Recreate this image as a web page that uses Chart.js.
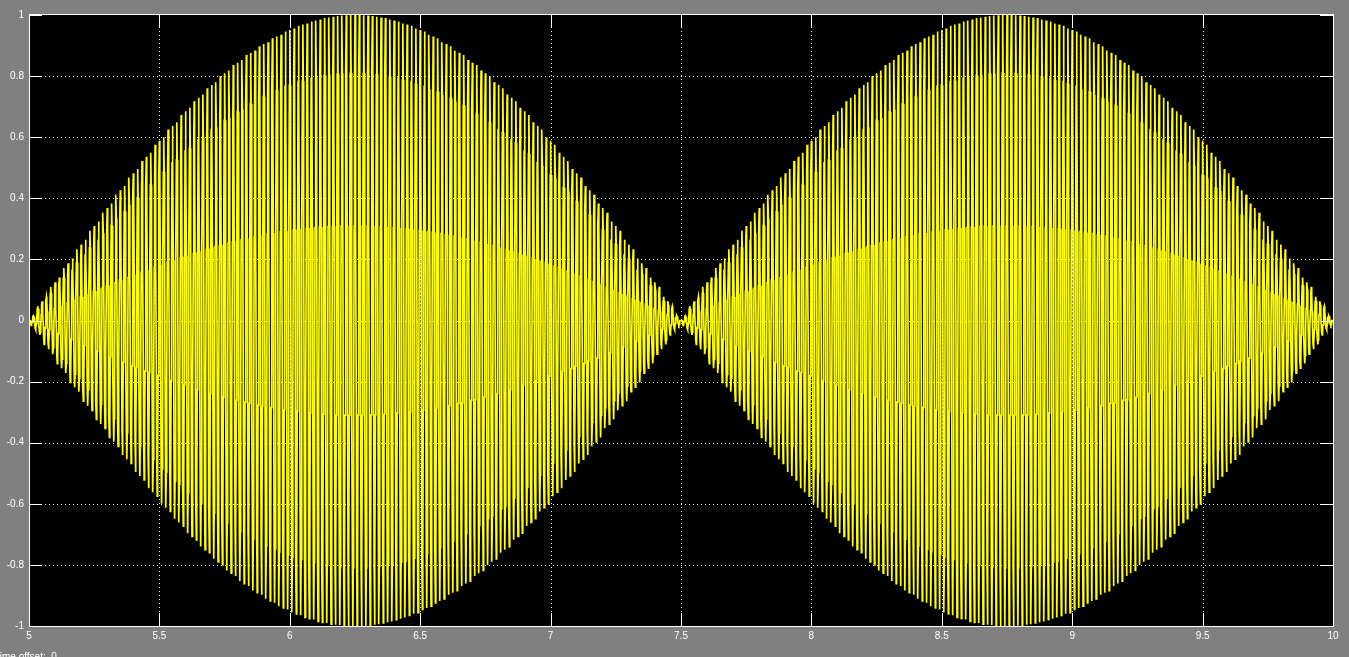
<!DOCTYPE html>
<html>
<head>
<meta charset="utf-8">
<script src="https://cdn.jsdelivr.net/npm/chart.js@4/dist/chart.umd.min.js"></script>
<style>
html,body{margin:0;padding:0;background:#808080;overflow:hidden;}
#wrap{width:1349px;height:657px;position:relative;}
</style>
</head>
<body>
<div id="wrap"><canvas id="c" width="1349" height="657"></canvas></div>
<script>
// Envelope, rising half of a lobe, read every 0.0125 s (5.000 .. 6.250)
const envelopeRise = [0,0.016,0.031,0.047,0.063,0.078,0.094,0.110,0.125,0.141,
0.156,0.172,0.187,0.203,0.218,0.233,0.249,0.264,0.279,0.294,
0.309,0.324,0.339,0.353,0.368,0.383,0.397,0.412,0.426,0.440,
0.454,0.468,0.482,0.496,0.509,0.522,0.536,0.549,0.562,0.575,
0.588,0.600,0.613,0.625,0.637,0.649,0.661,0.673,0.685,0.696,
0.707,0.718,0.729,0.740,0.750,0.760,0.771,0.780,0.790,0.800,
0.809,0.818,0.827,0.836,0.844,0.853,0.861,0.869,0.876,0.884,
0.891,0.898,0.905,0.911,0.918,0.924,0.930,0.935,0.941,0.946,
0.951,0.956,0.960,0.965,0.969,0.972,0.976,0.979,0.982,0.985,
0.988,0.990,0.992,0.994,0.996,0.997,0.998,0.999,1.000,1.000,1.000];
// each lobe is symmetric; both lobes (5..7.5, 7.5..10) look identical
const lobe = envelopeRise.concat(envelopeRise.slice(0, -1).reverse());
const envelope = lobe.concat(lobe.slice(1));
// repeating sample levels of the carrier (±1, ±0.81, ±0.31)
const carrierLevels = [1,0.81,0.31,-0.31,-0.81,-1,-0.81,-0.31,0.31,0.81];
const sampleRate = 600;          // samples per second (10 per carrier cycle)
const tStart = 5, tEnd = 10, envStep = 0.0125;
const xTickLabels = ['5','5.5','6','6.5','7','7.5','8','8.5','9','9.5','10'];
const yTickLabels = ['-1','-0.8','-0.6','-0.4','-0.2','0','0.2','0.4','0.6','0.8','1'];

const points = [];
const nSamples = Math.round((tEnd - tStart) * sampleRate);
for (let i = 0; i <= nSamples; i++) {
  const t = tStart + i / sampleRate;
  const g = Math.min(envelope.length - 1, Math.round((t - tStart) / envStep));
  points.push({ x: t, y: envelope[g] * carrierLevels[i % carrierLevels.length] });
}

const FONT = {family: 'Liberation Sans', size: 10};

const scopePlugin = {
  id: 'scope',
  beforeDraw(chart) {
    const {ctx, chartArea: a} = chart;
    ctx.save();
    ctx.fillStyle = '#808080';
    ctx.fillRect(0, 0, chart.width, chart.height);
    ctx.fillStyle = '#000000';
    ctx.fillRect(a.left, a.top, a.right - a.left, a.bottom - a.top);
    ctx.restore();
  },
  afterDatasetsDraw(chart) {
    const {ctx, chartArea: a, scales} = chart;
    const xs = scales.x, ys = scales.y;
    ctx.save();
    ctx.strokeStyle = '#ffffff';
    ctx.lineWidth = 1;
    ctx.setLineDash([1, 3]);
    ctx.beginPath();
    xs.ticks.forEach(t => {
      const px = Math.round(xs.getPixelForValue(t.value)) + 0.5;
      if (px > a.left + 1 && px < a.right - 1) { ctx.moveTo(px, a.top); ctx.lineTo(px, a.bottom); }
    });
    ys.ticks.forEach(t => {
      const py = Math.round(ys.getPixelForValue(t.value)) + 0.5;
      if (py > a.top + 1 && py < a.bottom - 1) { ctx.moveTo(a.left, py); ctx.lineTo(a.right, py); }
    });
    ctx.stroke();
    ctx.setLineDash([]);
    const L = 13;
    ctx.beginPath();
    xs.ticks.forEach(t => {
      const px = Math.round(xs.getPixelForValue(t.value)) + 0.5;
      ctx.moveTo(px, a.bottom); ctx.lineTo(px, a.bottom - L);
      ctx.moveTo(px, a.top); ctx.lineTo(px, a.top + L);
    });
    ys.ticks.forEach(t => {
      const py = Math.round(ys.getPixelForValue(t.value)) + 0.5;
      ctx.moveTo(a.left, py); ctx.lineTo(a.left + L, py);
      ctx.moveTo(a.right, py); ctx.lineTo(a.right - L, py);
    });
    ctx.stroke();
    ctx.strokeRect(Math.round(a.left) + 0.5, Math.round(a.top) - 0.5, Math.round(a.right - a.left), Math.round(a.bottom - a.top) + 1);
    ctx.fillStyle = '#ffffff';
    ctx.font = '10px "Liberation Sans"';
    ctx.textBaseline = 'top';
    ctx.textAlign = 'left';
    ctx.fillText('Time offset:  0', -6, 652);
    ctx.restore();
  }
};

new Chart(document.getElementById('c'), {
  type: 'line',
  data: {
    datasets: [{
      data: points,
      borderColor: '#ffff00',
      borderWidth: 1.7,
      pointRadius: 0,
      tension: 0,
      fill: false
    }]
  },
  options: {
    responsive: false,
    animation: false,
    parsing: false,
    normalized: true,
    events: [],
    layout: {padding: {left: 0, top: 15, right: 16, bottom: 0}},
    plugins: {legend: {display: false}, tooltip: {enabled: false}, title: {display: false}},
    scales: {
      x: {
        type: 'linear', min: 5, max: 10,
        afterFit(s) { s.height = 31; },
        afterBuildTicks(s) { s.ticks = xTickLabels.map(v => ({value: parseFloat(v)})); },
        ticks: {color: '#ffffff', font: FONT, padding: 4, maxRotation: 0, autoSkip: false,
          callback: (v, i) => xTickLabels[i]},
        grid: {display: false, drawTicks: false},
        border: {display: false}
      },
      y: {
        type: 'linear', min: -1, max: 1,
        afterFit(s) { s.width = 29; },
        afterBuildTicks(s) { s.ticks = yTickLabels.map(v => ({value: parseFloat(v)})); },
        ticks: {color: '#ffffff', font: FONT, padding: 5, autoSkip: false,
          callback: (v, i) => yTickLabels[i]},
        grid: {display: false, drawTicks: false},
        border: {display: false}
      }
    }
  },
  plugins: [scopePlugin]
});
</script>
</body>
</html>
